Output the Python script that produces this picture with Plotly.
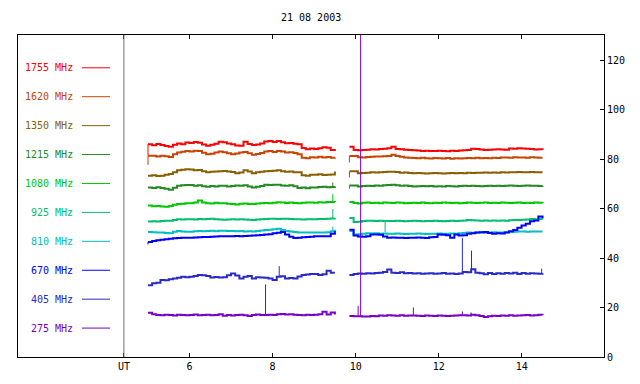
import numpy as np
import plotly.graph_objects as go

# ---- time axis (UT hours) for the two recording segments ----
seg1_start, seg1_end, seg1_n = 5.0, 9.5, 46
seg2_start, seg2_end, seg2_n = 9.85, 14.5, 47

title_text = "21 08 2003"
labels = ["1755 MHz", "1620 MHz", "1350 MHz", "1215 MHz", "1080 MHz",
          "925 MHz", "810 MHz", "670 MHz", "405 MHz", "275 MHz"]
colors = ["#ff0000", "#c84400", "#886000", "#228b22", "#00c800",
          "#00c070", "#00c0c0", "#0000ff", "#2a2ac8", "#7800c8"]

x_tickvals = [4.42, 6, 8, 10, 12, 14]
x_ticktext = ["UT", "6", "8", "10", "12", "14"]
y_tickvals = [0, 20, 40, 60, 80, 100, 120]

# ---- series values ----
f1755_a = [86.0, 85.6, 86.1, 85.7, 85.3, 84.9, 85.8, 86.3, 86.0, 86.7,
           86.5, 86.9, 86.6, 85.9, 85.4, 85.8, 86.2, 87.0, 86.8, 86.3,
           86.0, 85.5, 85.4, 87.0, 86.1, 85.7, 85.9, 86.3, 87.1, 87.3,
           86.9, 87.3, 86.8, 86.4, 86.5, 86.2, 86.0, 84.4, 83.9, 84.2,
           84.0, 84.3, 84.7, 84.5, 83.6, 84.0]
f1755_b = [84.9, 83.6, 83.5, 83.6, 83.7, 83.9, 83.8, 84.0, 84.1, 84.3,
           84.9, 84.0, 83.9, 83.7, 83.6, 83.5, 83.4, 83.2, 83.3, 83.2,
           83.2, 83.3, 83.2, 83.1, 83.3, 83.2, 83.4, 83.5, 83.6, 84.1,
           84.0, 83.8, 83.6, 83.7, 83.8, 83.9, 83.8, 83.7, 84.2, 84.1,
           84.3, 84.2, 84.1, 84.0, 83.8, 83.9, 83.6]

f1620_a = [81.3, 81.3, 81.0, 81.3, 81.1, 80.8, 81.9, 82.6, 82.9, 83.2,
           83.0, 83.3, 83.2, 82.5, 81.9, 82.1, 82.6, 83.0, 82.7, 82.3,
           81.9, 82.2, 82.6, 82.8, 82.3, 81.7, 82.0, 82.4, 83.0, 83.2,
           82.8, 83.2, 83.0, 82.6, 82.7, 82.4, 81.9, 80.5, 80.3, 80.7,
           80.6, 80.9, 80.6, 80.8, 80.5, 80.6]
f1620_b = [81.2, 81.2, 80.7, 80.6, 80.8, 80.9, 81.0, 81.0, 81.1, 81.2,
           81.7, 81.2, 80.9, 80.6, 80.5, 80.4, 80.3, 80.5, 80.3, 80.2,
           80.4, 80.3, 80.2, 80.4, 80.1, 80.3, 80.2, 80.3, 80.4, 80.3,
           80.5, 80.3, 80.4, 80.3, 80.5, 80.4, 80.6, 80.6, 80.5, 80.7,
           80.6, 80.6, 80.5, 80.7, 80.6, 80.5, 80.5]

f1350_a = [73.2, 73.4, 73.1, 73.2, 73.6, 73.9, 74.6, 75.5, 75.7, 75.9,
           75.8, 75.5, 75.6, 75.1, 74.6, 74.8, 74.9, 75.0, 75.2, 74.9,
           74.7, 74.2, 74.5, 75.5, 74.9, 74.2, 74.6, 74.8, 75.0, 75.2,
           75.3, 75.5, 75.1, 74.8, 74.9, 74.6, 74.6, 73.4, 73.2, 73.6,
           73.6, 73.8, 73.5, 73.6, 73.7, 74.9]
f1350_b = [75.0, 75.0, 74.2, 74.3, 74.4, 74.6, 74.5, 74.6, 74.7, 74.8,
           74.8, 74.7, 74.4, 74.5, 74.3, 74.2, 74.3, 74.2, 74.1, 74.2,
           74.3, 74.2, 74.1, 74.2, 74.3, 74.2, 74.3, 74.2, 74.4, 74.3,
           74.4, 74.4, 74.5, 74.4, 74.5, 74.4, 74.6, 74.5, 74.6, 74.6,
           74.7, 74.6, 74.6, 74.7, 74.6, 74.6, 74.6]

f1215_a = [68.5, 68.3, 68.6, 68.3, 68.0, 67.6, 68.4, 69.2, 69.4, 69.5,
           69.5, 69.2, 69.4, 69.0, 68.8, 69.1, 68.9, 69.2, 69.2, 68.9,
           69.1, 69.3, 69.2, 69.4, 68.9, 68.5, 68.8, 69.1, 69.6, 69.5,
           69.6, 69.6, 69.3, 69.2, 69.4, 69.0, 68.3, 68.5, 68.2, 68.5,
           68.5, 68.7, 68.8, 68.6, 68.7, 68.9]
f1215_b = [69.3, 69.3, 68.9, 69.1, 69.2, 69.1, 69.3, 69.2, 69.4, 69.5,
           69.6, 69.4, 69.2, 69.3, 69.1, 68.9, 69.0, 69.1, 69.0, 69.1,
           68.9, 69.0, 68.9, 69.1, 69.0, 68.9, 69.1, 69.2, 69.1, 69.2,
           69.1, 69.0, 69.1, 69.2, 69.1, 69.2, 69.1, 69.2, 69.3, 69.2,
           69.1, 69.2, 69.3, 69.2, 69.2, 69.1, 69.2]

f1080_a = [61.2, 60.9, 61.0, 60.8, 60.7, 61.0, 61.5, 61.8, 61.9, 62.1,
           62.1, 62.4, 63.2, 62.4, 62.1, 62.0, 62.3, 62.1, 62.1, 61.9,
           61.8, 61.6, 61.9, 62.0, 61.8, 61.8, 62.0, 62.1, 62.2, 62.1,
           62.3, 62.5, 62.4, 62.2, 62.4, 62.2, 62.1, 62.3, 62.4, 62.4,
           62.3, 62.5, 62.4, 62.6, 62.6, 62.5]
f1080_b = [62.6, 62.2, 62.0, 62.3, 62.4, 62.2, 62.3, 62.1, 62.4, 62.3,
           62.2, 62.4, 62.3, 62.1, 62.2, 62.3, 62.2, 62.4, 62.2, 62.1,
           62.3, 62.2, 62.4, 62.3, 62.2, 62.3, 62.1, 62.2, 62.4, 62.3,
           62.2, 62.3, 62.4, 62.2, 62.3, 62.2, 62.4, 62.3, 62.2, 62.3,
           62.4, 62.2, 62.3, 62.2, 62.4, 62.3, 62.2]

f925_a = [54.7, 54.8, 54.7, 54.9, 55.0, 55.1, 55.4, 55.7, 55.6, 55.7,
          55.7, 55.6, 55.8, 55.7, 55.8, 55.9, 55.7, 55.6, 55.5, 55.6,
          55.7, 55.6, 55.7, 55.6, 55.5, 55.4, 55.6, 55.7, 55.8, 55.9,
          55.9, 55.8, 55.9, 55.9, 55.8, 55.7, 55.7, 55.6, 55.7, 55.7,
          55.7, 55.8, 55.8, 55.9, 56.0, 56.2]
f925_b = [56.2, 54.5, 54.6, 54.9, 55.0, 55.1, 54.9, 55.0, 54.9, 54.9,
          54.9, 55.0, 54.9, 54.8, 54.9, 55.0, 54.9, 54.8, 54.9, 54.9,
          55.0, 54.9, 54.8, 54.9, 55.0, 54.9, 55.0, 55.2, 55.4, 55.3,
          55.2, 55.1, 55.2, 55.1, 55.2, 55.1, 55.2, 55.1, 55.3, 55.4,
          55.4, 55.5, 55.6, 55.8, 55.7, 55.8, 55.7]

f810_a = [50.5, 50.4, 50.3, 50.3, 50.1, 50.0, 50.6, 50.9, 50.7, 50.6,
          50.6, 50.8, 50.9, 50.8, 50.9, 51.0, 50.8, 51.0, 51.0, 50.9,
          50.9, 50.8, 50.9, 50.7, 50.8, 50.7, 50.9, 51.1, 51.3, 51.4,
          51.6, 51.8, 51.3, 50.9, 50.7, 50.5, 50.3, 50.3, 50.3, 50.3,
          50.3, 50.3, 50.3, 50.4, 50.8, 51.4]
f810_b = [50.9, 49.5, 49.6, 49.8, 50.0, 49.9, 50.0, 49.8, 49.9, 49.8,
          49.8, 49.9, 49.8, 49.7, 49.8, 49.8, 49.9, 49.8, 49.7, 49.8,
          49.8, 49.9, 49.8, 49.8, 49.9, 49.8, 50.0, 50.1, 50.3, 50.2,
          50.3, 50.3, 50.2, 50.3, 50.4, 50.3, 50.3, 50.4, 50.5, 50.6,
          50.7, 50.7, 50.6, 50.7, 50.7, 50.7, 50.7]

f670_a = [46.5, 46.9, 47.2, 47.4, 47.6, 47.8, 48.0, 48.1, 48.2, 48.2,
          48.2, 48.3, 48.4, 48.5, 48.5, 48.6, 48.7, 48.8, 48.8, 48.8,
          48.8, 48.9, 48.8, 48.9, 49.0, 49.1, 49.2, 49.3, 49.5, 49.6,
          50.0, 50.2, 50.5, 49.5, 48.6, 48.1, 48.2, 48.4, 48.5, 48.6,
          48.8, 48.8, 48.8, 48.8, 49.8, 50.9]
f670_b = [51.4, 49.1, 48.7, 48.6, 48.8, 49.5, 49.5, 49.4, 48.7, 48.2,
          48.3, 48.2, 48.2, 48.1, 48.2, 48.2, 48.3, 48.2, 48.1, 48.4,
          48.5, 49.5, 49.4, 49.2, 48.2, 49.5, 49.1, 49.2, 49.8, 50.0,
          50.3, 50.4, 50.5, 50.1, 49.8, 50.0, 49.9, 50.3, 50.8, 51.3,
          52.2, 53.1, 53.8, 54.8, 55.2, 56.8, 56.2]

f405_a = [29.0, 29.8, 30.0, 31.1, 31.0, 31.4, 31.7, 32.0, 32.4, 32.2,
          32.4, 32.7, 33.1, 33.0, 32.7, 32.1, 32.3, 32.1, 32.2, 33.0,
          33.7, 32.9, 31.7, 32.4, 32.7, 31.7, 32.2, 32.1, 32.0, 31.7,
          31.1, 32.4, 32.6, 31.7, 31.9, 31.7, 32.5, 33.1, 33.3, 33.5,
          33.5, 33.1, 33.4, 34.8, 34.0, 34.0]
f405_b = [33.1, 33.5, 33.7, 33.6, 33.8, 33.7, 33.9, 34.0, 34.3, 35.4,
          34.0, 33.9, 34.2, 33.8, 33.9, 33.7, 33.8, 33.6, 33.7, 33.8,
          33.6, 33.7, 33.9, 33.6, 33.7, 33.5, 33.7, 34.3, 34.2, 35.5,
          34.0, 33.8, 33.4, 33.9, 33.5, 33.8, 33.6, 33.9, 33.7, 34.0,
          33.5, 33.9, 33.6, 33.8, 33.7, 33.6, 33.8]

f275_a = [17.9, 17.3, 17.0, 16.9, 17.1, 17.0, 16.8, 17.1, 17.0, 16.9,
          17.0, 17.2, 16.9, 17.0, 17.1, 16.9, 17.0, 17.3, 16.7, 17.0,
          16.8, 17.0, 17.1, 16.9, 16.6, 17.0, 17.2, 17.0, 17.0, 17.1,
          17.0, 17.3, 17.4, 17.2, 17.3, 17.1, 17.0, 16.9, 17.1, 17.0,
          17.1, 17.3, 18.3, 17.2, 18.0, 17.2]
f275_b = [16.6, 16.5, 16.5, 16.4, 16.4, 16.6, 16.5, 16.8, 16.7, 16.9,
          16.8, 16.7, 16.9, 16.7, 16.8, 16.8, 16.7, 16.6, 16.8, 16.7,
          16.6, 16.8, 16.7, 16.6, 16.7, 16.8, 16.9, 16.9, 16.8, 17.1,
          16.9, 16.6, 16.2, 16.5, 16.7, 16.6, 16.8, 16.7, 16.9, 16.7,
          16.8, 16.9, 17.0, 16.8, 16.9, 17.1, 17.0]

# short spikes (time UT, peak value)
spk_1755 = [(5.0, 81.5)]
spk_1620 = [(5.0, 77.6), (9.85, 78.6)]
spk_1350 = [(9.85, 72.6)]
spk_1215 = [(9.45, 70.5), (9.85, 67.9)]
spk_1080 = [(9.45, 65.9)]
spk_925 = [(9.45, 59.8), (10.71, 50.5)]
spk_810 = [(9.45, 52.7)]
spk_670 = [(5.0, 45.5)]
spk_405 = [(8.16, 36.7), (12.57, 48.1), (12.79, 43.0), (14.48, 35.7)]
spk_275 = [(7.83, 29.3), (10.06, 20.7), (10.12, 160.0), (11.39, 20.0),
           (12.57, 18.4), (12.78, 18.0)]

series_a = [f1755_a, f1620_a, f1350_a, f1215_a, f1080_a,
            f925_a, f810_a, f670_a, f405_a, f275_a]
series_b = [f1755_b, f1620_b, f1350_b, f1215_b, f1080_b,
            f925_b, f810_b, f670_b, f405_b, f275_b]
spikes = [spk_1755, spk_1620, spk_1350, spk_1215, spk_1080,
          spk_925, spk_810, spk_670, spk_405, spk_275]

t1 = list(np.linspace(seg1_start, seg1_end, seg1_n))
t2 = list(np.linspace(seg2_start, seg2_end, seg2_n))

FONT = "DejaVu Sans Mono"
fig = go.Figure()

for lab, col, a, b, spk in zip(labels, colors, series_a, series_b, spikes):
    x = t1 + [None] + t2
    y = list(a) + [None] + list(b)
    fig.add_trace(go.Scatter(x=x, y=y, mode="lines", name=lab,
                             line=dict(color=col, width=2, shape="hv"),
                             connectgaps=False, showlegend=False,
                             hoverinfo="skip"))
    tt = t1 + t2
    vv = list(a) + list(b)
    sx, sy = [], []
    for ts, peak in spk:
        base = float(np.interp(ts, tt, vv))
        sx += [ts, ts, None]
        sy += [base, peak, None]
    fig.add_trace(go.Scatter(x=sx, y=sy, mode="lines",
                             line=dict(color=col, width=1),
                             showlegend=False, hoverinfo="skip"))

# legend block drawn inside the plot on the left
L, R, T, B = 18, 36, 35, 25
W, H = 640 - L - R, 384 - T - B
annotations = []
shapes = []
for i, (lab, col) in enumerate(zip(labels, colors)):
    py = 68 + 29.1 * i
    yp = (384 - B - py) / H
    annotations.append(dict(x=(75 - L) / W, y=yp, xref="paper", yref="paper",
                            text=lab, showarrow=False, xanchor="right",
                            yanchor="middle",
                            font=dict(family=FONT, size=10, color=col)))
    shapes.append(dict(type="line", xref="paper", yref="paper",
                       x0=(82 - L) / W, x1=(110 - L) / W, y0=yp, y1=yp,
                       line=dict(color=col, width=1)))

# separator line at the UT label
shapes.append(dict(type="line", xref="x", yref="paper", x0=x_tickvals[0],
                   x1=x_tickvals[0], y0=0, y1=1,
                   line=dict(color="#707070", width=1)))

annotations.append(dict(x=0.5, y=1 + (T - 17) / H, xref="paper", yref="paper",
                        text=title_text, showarrow=False, xanchor="center",
                        yanchor="middle",
                        font=dict(family=FONT, size=10, color="black")))

fig.update_layout(
    width=640, height=384,
    margin=dict(l=L, r=R, t=T, b=B),
    paper_bgcolor="white", plot_bgcolor="white",
    annotations=annotations, shapes=shapes,
    font=dict(family=FONT, size=10, color="black"),
    xaxis=dict(range=[1.87, 15.98], tickvals=x_tickvals, ticktext=x_ticktext,
               showgrid=False, zeroline=False, showline=True, mirror="ticks",
               linecolor="black", linewidth=1, ticks="inside", ticklen=4,
               tickcolor="black", tickfont=dict(family=FONT, size=10)),
    yaxis=dict(range=[0, 130.1], tickvals=y_tickvals, side="right",
               showgrid=False, zeroline=False, showline=True, mirror=True,
               linecolor="black", linewidth=1, ticks="inside", ticklen=4,
               tickcolor="black", tickfont=dict(family=FONT, size=10)),
)

fig.write_html("out.html",
               config={"displayModeBar": False, "staticPlot": True},
               post_script="document.body.style.margin='0px';"
                           "document.body.style.overflow='hidden';")
